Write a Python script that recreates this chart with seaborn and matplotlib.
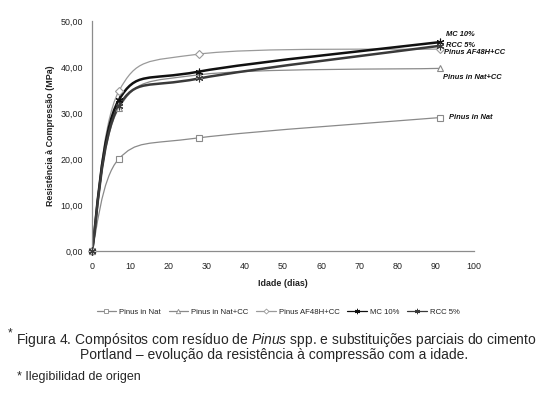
import numpy as np
import pandas as pd
import matplotlib
matplotlib.use("Agg")
import matplotlib.pyplot as plt
import seaborn as sns
from matplotlib.path import Path
from matplotlib.patches import PathPatch
from matplotlib.lines import Line2D
from matplotlib.ticker import FuncFormatter

# Data
days = [0, 7, 28, 91]
series_names = ["Pinus in Nat", "Pinus in Nat+CC", "Pinus AF48H+CC", "MC 10%", "RCC 5%"]
pinus_nat = [0.0, 20.0, 24.6, 29.0]
pinus_nat_cc = [0.0, 31.0, 38.3, 39.7]
pinus_af48h_cc = [0.0, 34.7, 42.8, 43.9]
mc_10 = [0.0, 32.8, 39.0, 45.4]
rcc_5 = [0.0, 31.5, 37.5, 44.6]
x_ticks = list(range(0, 101, 10))
y_ticks = list(range(0, 51, 10))

values = [pinus_nat, pinus_nat_cc, pinus_af48h_cc, mc_10, rcc_5]
df = pd.DataFrame({
    "idade": days * len(series_names),
    "resistencia": sum(values, []),
    "serie": [s for s in series_names for _ in days],
})

# styles: colour, linewidth, marker, marker size
styles = {
    "Pinus in Nat": ("#8a8a8a", 0.9, "s", 4.5),
    "Pinus in Nat+CC": ("#8a8a8a", 0.9, "^", 4.5),
    "Pinus AF48H+CC": ("#9a9a9a", 0.9, "D", 3.6),
    "MC 10%": ("#111111", 1.8, (6, 2, 0), 5.5),
    "RCC 5%": ("#3a3a3a", 1.8, (6, 2, 0), 5.5),
}
# end-of-line label offsets (pixels)
label_offsets = {
    "Pinus in Nat": (9, 0),
    "Pinus in Nat+CC": (3, -9),
    "Pinus AF48H+CC": (4, -3),
    "MC 10%": (6, 8),
    "RCC 5%": (6, 0.5),
}

sns.set_style("white")
plt.rcParams["font.family"] = ["Liberation Sans", "DejaVu Sans"]
plt.rcParams["mathtext.fontset"] = "custom"
plt.rcParams["mathtext.rm"] = "Liberation Sans"
plt.rcParams["mathtext.it"] = "Liberation Sans:italic"

W, H = 542, 394
fig = plt.figure(figsize=(W / 100, H / 100), dpi=100)
ax = fig.add_axes([92 / W, 1 - 251 / H, 382 / W, 230 / H])


def smooth_path(xs, ys):
    # Excel-like smoothed line (Catmull-Rom -> cubic Bezier)
    pts = list(zip(xs, ys))
    verts = [pts[0]]
    codes = [Path.MOVETO]
    for i in range(len(pts) - 1):
        p0 = pts[i - 1] if i > 0 else pts[i]
        p1, p2 = pts[i], pts[i + 1]
        p3 = pts[i + 2] if i + 2 < len(pts) else p2
        c1 = (p1[0] + (p2[0] - p0[0]) / 6, p1[1] + (p2[1] - p0[1]) / 6)
        c2 = (p2[0] - (p3[0] - p1[0]) / 6, p2[1] - (p3[1] - p1[1]) / 6)
        verts += [c1, c2, p2]
        codes += [Path.CURVE4] * 3
    return Path(verts, codes)


handles = []
for name in series_names:
    sub = df[df["serie"] == name]
    color, lw, marker, ms = styles[name]
    ax.add_patch(PathPatch(smooth_path(sub["idade"].tolist(), sub["resistencia"].tolist()),
                           fill=False, edgecolor=color, lw=lw, zorder=2))
    sns.lineplot(data=sub, x="idade", y="resistencia", ax=ax, linestyle="", marker=marker,
                 markersize=ms, markerfacecolor="white" if lw < 1 else color,
                 markeredgecolor=color, markeredgewidth=0.8, color=color,
                 clip_on=False, zorder=3, legend=False)
    handles.append(Line2D([], [], color=color, lw=0.9, marker=marker, markersize=ms * 0.7,
                          markerfacecolor="white" if lw < 1 else color,
                          markeredgecolor=color, markeredgewidth=0.6))
    dx, dy = label_offsets[name]
    ax.annotate(name, xy=(sub["idade"].iloc[-1], sub["resistencia"].iloc[-1]),
                xytext=(dx * 0.72, dy * 0.72), textcoords="offset points",
                ha="left", va="center", fontsize=5.4, fontweight="bold",
                fontstyle="italic", color="#111111", annotation_clip=False)

ax.set_xlim(0, 100)
ax.set_ylim(0, 50)
ax.set_xticks(x_ticks)
ax.set_yticks(y_ticks)
ax.yaxis.set_major_formatter(FuncFormatter(lambda v, p: f"{v:.2f}".replace(".", ",")))
for side in ["top", "right"]:
    ax.spines[side].set_visible(False)
for side in ["left", "bottom"]:
    ax.spines[side].set_color("#8c8c8c")
    ax.spines[side].set_linewidth(0.9)
ax.tick_params(axis="y", direction="out", length=3, width=0.8, color="#8c8c8c",
               pad=3.6, labelsize=6.4, labelcolor="#222222")
ax.tick_params(axis="x", direction="inout", length=3, width=0.8, color="#8c8c8c",
               pad=6.5, labelsize=6.4, labelcolor="#222222")
ax.set_xlabel("Idade (dias)", fontsize=6.4, fontweight="bold", color="#222222")
ax.set_ylabel("Resistência à Compressão (MPa)", fontsize=6.4, fontweight="bold", color="#222222")
ax.xaxis.set_label_coords(0.5, -(279 - 251) / 230)
ax.yaxis.set_label_coords((55 - 92) / 382, 0.5)
ax.set_facecolor("white")

fig.legend(handles, series_names, loc="center", bbox_to_anchor=(278 / W, 1 - 312 / H),
           ncol=5, frameon=False, fontsize=5.6, handlelength=2.5, handletextpad=0.4,
           columnspacing=1.0, labelcolor="#222222")

# caption
fig.text(8 / W, 1 - 333 / H, "*", fontsize=8.5, ha="left", va="center")
fig.text(16 / W, 1 - 340 / H,
         "Figura 4. Compósitos com resíduo de $\\it{Pinus}$ spp. e substituições parciais do cimento",
         fontsize=10, ha="left", va="center")
fig.text(274 / W, 1 - 355 / H, "Portland – evolução da resistência à compressão com a idade.",
         fontsize=10, ha="center", va="center")
fig.text(17 / W, 1 - 377 / H, "* Ilegibilidad de origen", fontsize=9, ha="left", va="center")

fig.savefig("out.png", dpi=100, facecolor="white")
